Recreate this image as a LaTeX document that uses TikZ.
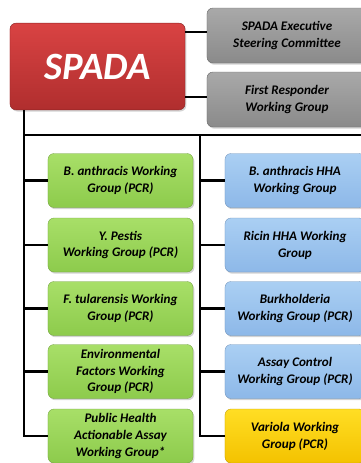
\documentclass[tikz,border=0pt]{standalone}
\usepackage{xcolor}
\usepackage{fontspec}
\setsansfont{Carlito}[BoldFont={Carlito Bold}, ItalicFont={Carlito Italic}, BoldItalicFont={Carlito Bold Italic}]
\usepackage{tikz}
\usetikzlibrary{calc}
\usetikzlibrary{shadows}
\definecolor{spadared}{HTML}{D94343}
\definecolor{spadareddk}{HTML}{B02E2E}
\definecolor{grptop}{HTML}{A9A9A9}
\definecolor{grpbot}{HTML}{8A8A8A}
\definecolor{pcrtop}{HTML}{A8DF68}
\definecolor{pcrbot}{HTML}{8DCB4C}
\definecolor{hhatop}{HTML}{AACFF3}
\definecolor{hhabot}{HTML}{8DB8E8}
\definecolor{vartop}{HTML}{FFDE24}
\definecolor{varbot}{HTML}{F4C200}
\tikzset{
  wgbox/.style={rounded corners=.18cm, inner sep=1pt, align=center,
    font=\sffamily\bfseries\itshape\fontsize{11.2}{14.4}\selectfont,
    drop shadow={opacity=.35, shadow xshift=.04cm, shadow yshift=-.05cm}},
  pcrbox/.style={wgbox, top color=pcrtop, bottom color=pcrbot, draw=pcrbot!80!black,
    line width=.3pt, minimum width=4.35cm, minimum height=1.62cm},
  hhabox/.style={wgbox, top color=hhatop, bottom color=hhabot, draw=hhabot!80!black,
    line width=.3pt, minimum width=4.2cm, minimum height=1.62cm},
  link/.style={black, line width=2.4pt}
}

\begin{document}
\begin{tikzpicture} [x=.03cm, y=-.03cm]
\useasboundingbox (0,0) rectangle (361,463);
\clip (0,0) rectangle (361,463);
% top
\node[wgbox, top color=spadared, bottom color=spadareddk, draw=spadareddk!80!black,
  minimum width=5.25cm, minimum height=2.6cm, text=white,
  font=\sffamily\bfseries\itshape\fontsize{33}{36}\selectfont] (spada) at (97.5,66.5) {SPADA};
\node[wgbox, top color=grptop, bottom color=grpbot, draw=grpbot!80!black,
  minimum width=4.8cm, minimum height=1.65cm] (esc) at (287,35.5) {SPADA Executive\\Steering Committee};
\node[wgbox, top color=grptop, bottom color=grpbot, draw=grpbot!80!black,
  minimum width=4.8cm, minimum height=1.65cm] (frwg) at (287,99.5) {First Responder\\Working Group};
\draw[link] ($(esc.west)+(0,-3.5)$) -- ($(esc.west -| spada.east)+(0,-3.5)$);
\draw[link] ($(frwg.west)+(0,-2.5)$) -- ($(frwg.west -| spada.east)+(0,-2.5)$);
% left column
\node[pcrbox] (g1) at (120.5,180.5) {B. anthracis Working\\Group (PCR)};
\node[pcrbox] (g2) at (120.5,245) {Y. Pestis\\Working Group (PCR)};
\node[pcrbox] (g3) at (120.5,308.5) {F. tularensis Working\\Group (PCR)};
\node[pcrbox] (g4) at (120.5,371.5) {Environmental\\Factors Working\\Group (PCR)};
\node[pcrbox] (g5) at (120.5,436) {Public Health\\Actionable Assay\\Working Group*};
% right column
\node[hhabox] (b1) at (295,180.5) {B. anthracis HHA\\Working Group};
\node[hhabox] (b2) at (295,245) {Ricin HHA Working\\Group};
\node[hhabox] (b3) at (295,308.5) {Burkholderia\\Working Group (PCR)};
\node[hhabox] (b4) at (295,371.5) {Assay Control\\Working Group (PCR)};
\node[hhabox, top color=vartop, bottom color=varbot, draw=varbot!80!black] (b5) at (295,436) {Variola Working\\Group (PCR)};
% trunk lines
\coordinate (trunk) at (24,135);
\coordinate (bus) at (200,135);
\coordinate (rend) at (365,135);
\draw[link] (spada.south -| trunk) -- (trunk) -- (rend);
\draw[link] (trunk) |- (g5.west);
\draw[link] (bus) |- (b5.west);
\foreach \g in {g1,g2,g3,g4} {
  \draw[link] (\g.west) -- (\g.west -| trunk);
}
\foreach \b in {b1,b2,b3,b4} {
  \draw[link] (\b.west) -- (\b.west -| bus);
}
\end{tikzpicture}
\end{document}
